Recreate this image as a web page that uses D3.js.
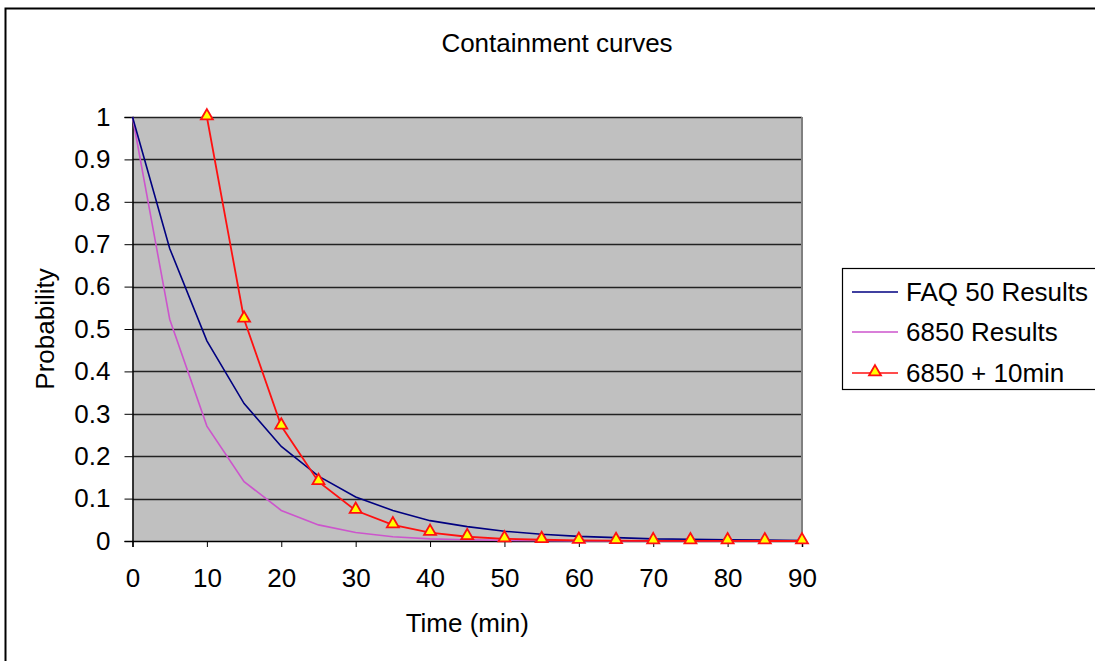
<!DOCTYPE html>
<html>
<head>
<meta charset="utf-8">
<script src="https://cdnjs.cloudflare.com/ajax/libs/d3/7.8.5/d3.min.js"></script>
<style>
  body { margin: 0; background: #fff; }
  text { font-family: "Liberation Sans", Arial, sans-serif; fill: #000; }
</style>
</head>
<body>
<div id="chart-area"></div>
<script>
// time in minutes
var times = [0, 5, 10, 15, 20, 25, 30, 35, 40, 45, 50, 55, 60, 65, 70, 75, 80, 85, 90]
var faq50 = [1, 0.69, 0.472, 0.324, 0.223, 0.153, 0.104, 0.072, 0.048, 0.034, 0.023, 0.016, 0.011, 0.008, 0.005, 0.004, 0.003, 0.002, 0.001]
var r6850 = [1, 0.523, 0.271, 0.14, 0.072, 0.038, 0.02, 0.01, 0.005, 0.003, 0.0014, 0.0007, 0.0004, 0.0002, 0.0001, 0.00005, 0.00003, 0.00001, 0.00001]
var plus10Times = [10, 15, 20, 25, 30, 35, 40, 45, 50, 55, 60, 65, 70, 75, 80, 85, 90]
var plus10 = [1, 0.523, 0.271, 0.14, 0.072, 0.038, 0.02, 0.01, 0.005, 0.003, 0.0014, 0.0007, 0.0004, 0.0002, 0.0001, 0.00005, 0.00003]
var xTicks = [0, 10, 20, 30, 40, 50, 60, 70, 80, 90]
var yTicks = [0, 0.1, 0.2, 0.3, 0.4, 0.5, 0.6, 0.7, 0.8, 0.9, 1]
var seriesNames = ["FAQ 50 Results", "6850 Results", "6850 + 10min"]

var W = 1095, H = 661
var margin = { left: 132.5, top: 117, right: 293, bottom: 120 }
var width = W - margin.left - margin.right,
    height = H - margin.top - margin.bottom
var fs = "26px"

var svg = d3.select("#chart-area")
    .append("svg")
    .attr("width", W)
    .attr("height", H)

// outer chart frame (cut off at the right and bottom)
svg.append("rect")
    .attr("x", 5.5).attr("y", 8.5)
    .attr("width", W + 20).attr("height", H + 20)
    .attr("fill", "none")
    .attr("stroke", "#000")
    .attr("stroke-width", 2)

svg.append("text")
    .attr("x", 557).attr("y", 52)
    .attr("font-size", fs)
    .attr("text-anchor", "middle")
    .text("Containment curves")

var g = svg.append("g")
    .attr("transform", "translate(" + margin.left + "," + margin.top + ")")

var x = d3.scaleLinear().domain([0, 90]).range([0, width])
var y = d3.scaleLinear().domain([0, 1]).range([height, 0])

g.append("rect")
    .attr("width", width).attr("height", height)
    .attr("fill", "#c0c0c0")

// gridlines
g.selectAll(".grid")
    .data(yTicks.slice(1))
    .enter().append("line")
    .attr("class", "grid")
    .attr("x1", 0).attr("x2", width)
    .attr("y1", d => Math.round(y(d)) + 0.5)
    .attr("y2", d => Math.round(y(d)) + 0.5)
    .attr("stroke", "#222")
    .attr("stroke-width", 1.3)

// plot border: right side gray
g.append("line")
    .attr("x1", width).attr("x2", width)
    .attr("y1", 0).attr("y2", height)
    .attr("stroke", "#808080").attr("stroke-width", 2)

var xAxisCall = d3.axisBottom(x)
    .tickValues(xTicks)
    .tickSize(6)
    .tickPadding(22)
    .tickFormat(d3.format("d"))
var xAxis = g.append("g")
    .attr("transform", "translate(0," + height + ")")
    .call(xAxisCall)

var yAxisCall = d3.axisLeft(y)
    .tickValues(yTicks)
    .tickSize(8)
    .tickPadding(14)
    .tickFormat(d => +d.toFixed(1))
var yAxis = g.append("g").call(yAxisCall)

;[xAxis, yAxis].forEach(ax => {
    ax.select(".domain").attr("stroke", "#000").attr("stroke-width", 1.5)
    ax.selectAll(".tick line").attr("stroke", "#000")
    ax.selectAll(".tick text")
        .attr("font-size", fs)
        .attr("font-family", "Liberation Sans, Arial, sans-serif")
        .attr("fill", "#000")
})

g.append("text")
    .attr("x", width / 2).attr("y", height + 91)
    .attr("font-size", fs)
    .attr("text-anchor", "middle")
    .text("Time (min)")
g.append("text")
    .attr("transform", "rotate(-90)")
    .attr("x", -height / 2).attr("y", -79)
    .attr("font-size", fs)
    .attr("text-anchor", "middle")
    .text("Probability")

var line = d3.line()
    .x(d => x(d[0]))
    .y(d => y(d[1]))

var faqPts = times.map((t, i) => [t, faq50[i]])
var pinkPts = times.map((t, i) => [t, r6850[i]])
var redPts = plus10Times.map((t, i) => [t, plus10[i]])

var colors = ["#000080", "#cc55cc", "#ff1010"]

g.append("path").datum(pinkPts)
    .attr("d", line).attr("fill", "none")
    .attr("stroke", colors[1]).attr("stroke-width", 1.6)
g.append("path").datum(faqPts)
    .attr("d", line).attr("fill", "none")
    .attr("stroke", colors[0]).attr("stroke-width", 1.6)
g.append("path").datum(redPts)
    .attr("d", line).attr("fill", "none")
    .attr("stroke", colors[2]).attr("stroke-width", 1.8)

var tri = d3.symbol().type(d3.symbolTriangle).size(62)
g.selectAll(".marker")
    .data(redPts)
    .enter().append("path")
    .attr("class", "marker")
    .attr("d", tri)
    .attr("transform", d => "translate(" + x(d[0]) + "," + (y(d[1]) - 1) + ")")
    .attr("fill", "#ffff00")
    .attr("stroke", colors[2])
    .attr("stroke-width", 1.8)

// legend
svg.append("rect")
    .attr("x", 842.5).attr("y", 268.5)
    .attr("width", 300).attr("height", 121)
    .attr("fill", "#fff")
    .attr("stroke", "#000").attr("stroke-width", 1.2)

var rowY = [292, 332, 373]
var lg = svg.append("g")
seriesNames.forEach((name, i) => {
    lg.append("line")
        .attr("x1", 852).attr("x2", 898)
        .attr("y1", rowY[i]).attr("y2", rowY[i])
        .attr("stroke", colors[i]).attr("stroke-width", 1.6)
    lg.append("text")
        .attr("x", 906).attr("y", rowY[i] + 9)
        .attr("font-size", fs)
        .text(name)
})
lg.append("path")
    .attr("d", tri)
    .attr("transform", "translate(875," + (rowY[2] - 1) + ")")
    .attr("fill", "#ffff00")
    .attr("stroke", colors[2])
    .attr("stroke-width", 1.8)
</script>
</body>
</html>
